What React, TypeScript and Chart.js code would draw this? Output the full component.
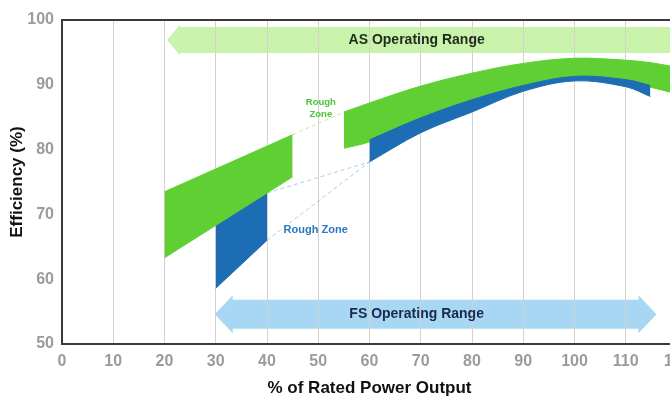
import React, { useEffect, useRef } from 'react';
import { Chart, registerables } from 'chart.js';

Chart.register(...registerables);

const FONT = "'Liberation Sans', Arial, Helvetica, sans-serif";

// Axis ranges / ticks
const xTicks = [0, 10, 20, 30, 40, 50, 60, 70, 80, 90, 100, 110, 120];
const yTicks = [50, 60, 70, 80, 90, 100];

// Low-load efficiency bands (before the rough zones)
const green1X = [20, 45];
const green1Upper = [73.5, 82.3];
const green1Lower = [63.3, 75.8];
const blue1X = [30, 40];
const blue1Upper = [68.4, 73.3];
const blue1Lower = [58.6, 66.0];

// High-load efficiency bands (after the rough zones)
const green2X = [55, 60, 70, 80, 90, 100, 110, 115, 120];
const green2Upper = [85.8, 87.2, 89.8, 91.8, 93.3, 94.1, 93.8, 93.4, 92.7];
const green2Lower = [80.2, 81.2, 84.6, 87.4, 89.6, 91.0, 90.5, 89.6, 88.6];
const blue2X = [60, 70, 80, 90, 100, 110, 114.8];
const blue2Upper = [81.5, 84.9, 87.7, 89.9, 91.3, 90.8, 89.9];
const blue2Lower = [78.1, 82.6, 85.8, 89.0, 90.6, 89.7, 88.2];

// Operating range arrows
const rangeNames = ['AS Operating Range', 'FS Operating Range'];
const rangeFrom = [20.5, 29.8];
const rangeTo = [126, 116];
const rangeLevel = [96.9, 54.6];
const rangeLabelX = [69.2, 69.2];

// Rough zone labels
const roughText = [['Rough', 'Zone'], ['Rough Zone']];
const roughX = [50.5, 49.5];
const roughY = [86.4, 67.6];

const GREEN = '#5fcf33';
const BLUE = '#1c6db4';

const pts = (xs: number[], ys: number[]) => xs.map((x, i) => ({ x, y: ys[i] }));

const band = (xs: number[], ys: number[], color: string, fill: any, curved: boolean) => ({
  data: pts(xs, ys),
  borderColor: color,
  backgroundColor: color,
  borderWidth: 1,
  fill,
  pointRadius: 0,
  pointHoverRadius: 0,
  tension: curved ? 0.35 : 0,
});

const roughLine = (a: { x: number; y: number }, b: { x: number; y: number }, color: string) => ({
  data: [a, b],
  borderColor: color,
  backgroundColor: color,
  borderWidth: 1,
  borderDash: [4, 3],
  fill: false,
  pointRadius: 0,
  pointHoverRadius: 0,
});

const arrowStyles = [
  { fill: '#c9f3aa', text: '#1f2b1c', body: 13, head: 15.5, len: 13, right: false },
  { fill: '#a8d7f3', text: '#1b2a4c', body: 14.5, head: 19, len: 18, right: true },
];

const overlayPlugin = {
  id: 'overlay',
  beforeDraw(chart: any) {
    const { ctx, chartArea, scales } = chart;
    const xs = scales.x;
    const ys = scales.y;
    ctx.save();
    ctx.beginPath();
    ctx.rect(chartArea.left, chartArea.top, chartArea.right - chartArea.left, chartArea.bottom - chartArea.top);
    ctx.clip();
    rangeNames.forEach((_, i) => {
      const st = arrowStyles[i];
      const xL = xs.getPixelForValue(rangeFrom[i]);
      const xR = xs.getPixelForValue(rangeTo[i]);
      const yc = ys.getPixelForValue(rangeLevel[i]);
      ctx.beginPath();
      ctx.moveTo(xL, yc);
      ctx.lineTo(xL + st.len, yc - st.head);
      ctx.lineTo(xL + st.len, yc - st.body);
      if (st.right) {
        ctx.lineTo(xR - st.len, yc - st.body);
        ctx.lineTo(xR - st.len, yc - st.head);
        ctx.lineTo(xR, yc);
        ctx.lineTo(xR - st.len, yc + st.head);
        ctx.lineTo(xR - st.len, yc + st.body);
      } else {
        ctx.lineTo(xR, yc - st.body);
        ctx.lineTo(xR, yc + st.body);
      }
      ctx.lineTo(xL + st.len, yc + st.body);
      ctx.lineTo(xL + st.len, yc + st.head);
      ctx.closePath();
      ctx.fillStyle = st.fill;
      ctx.fill();
    });
    ctx.restore();
  },
  afterDatasetsDraw(chart: any) {
    const { ctx, scales } = chart;
    const xs = scales.x;
    const ys = scales.y;
    ctx.save();
    ctx.textAlign = 'center';
    ctx.textBaseline = 'middle';
    rangeNames.forEach((name, i) => {
      ctx.font = `bold 14px ${FONT}`;
      ctx.fillStyle = arrowStyles[i].text;
      ctx.fillText(name, xs.getPixelForValue(rangeLabelX[i]), ys.getPixelForValue(rangeLevel[i]));
    });
    const roughColors = ['#4cc43a', '#2a78c0'];
    const roughSizes = [9.5, 11];
    roughText.forEach((lines, i) => {
      ctx.font = `bold ${roughSizes[i]}px ${FONT}`;
      ctx.fillStyle = roughColors[i];
      const cx = xs.getPixelForValue(roughX[i]);
      const cy = ys.getPixelForValue(roughY[i]);
      const lh = 12;
      lines.forEach((t, j) => {
        ctx.fillText(t, cx, cy + (j - (lines.length - 1) / 2) * lh);
      });
    });
    ctx.restore();
  },
};

export default function App() {
  const ref = useRef<HTMLCanvasElement>(null);

  useEffect(() => {
    const g1u = pts(green1X, green1Upper);
    const b1u = pts(blue1X, blue1Upper);
    const b1l = pts(blue1X, blue1Lower);
    const g2u = pts(green2X, green2Upper);
    const b2l = pts(blue2X, blue2Lower);

    const datasets: any[] = [
      band(blue2X, blue2Upper, BLUE, '+1', true),
      band(blue2X, blue2Lower, BLUE, false, true),
      band(green2X, green2Upper, GREEN, '+1', true),
      band(green2X, green2Lower, GREEN, false, true),
      band(green1X, green1Upper, GREEN, '+1', false),
      band(green1X, green1Lower, GREEN, false, false),
      band(blue1X, blue1Upper, BLUE, '+1', false),
      band(blue1X, blue1Lower, BLUE, false, false),
      roughLine(b1u[b1u.length - 1], b2l[0], 'rgba(140,190,225,0.75)'),
      roughLine(b1l[b1l.length - 1], b2l[0], 'rgba(140,190,225,0.75)'),
      roughLine(g1u[g1u.length - 1], g2u[0], 'rgba(205,228,150,0.9)'),
    ];

    const chart = new Chart(ref.current as HTMLCanvasElement, {
      type: 'line',
      data: { datasets },
      plugins: [overlayPlugin],
      options: {
        animation: false,
        responsive: false,
        devicePixelRatio: 1,
        layout: { padding: { top: 20, right: 23, left: 0, bottom: 0 } },
        plugins: { legend: { display: false }, tooltip: { enabled: false } },
        events: [],
        scales: {
          x: {
            type: 'linear',
            min: xTicks[0],
            max: xTicks[xTicks.length - 1],
            afterBuildTicks: (s: any) => {
              s.ticks = xTicks.map((v) => ({ value: v }));
            },
            ticks: {
              color: '#9b9b9b',
              font: { family: FONT, size: 16, weight: 'bold' },
              padding: 8,
              maxRotation: 0,
              autoSkip: false,
            },
            grid: {
              drawTicks: false,
              color: (c: any) => (c.tick && c.tick.value === 0 ? 'transparent' : '#d2d2d2'),
              lineWidth: 1,
            },
            border: { display: true, color: '#3a3a3a', width: 2 },
            title: {
              display: true,
              text: '% of Rated Power Output',
              color: '#111',
              font: { family: FONT, size: 17, weight: 'bold' },
              padding: { top: 0, bottom: 0 },
            },
            afterFit: (s: any) => {
              s.height = 55;
            },
          },
          y: {
            type: 'linear',
            min: yTicks[0],
            max: yTicks[yTicks.length - 1],
            afterBuildTicks: (s: any) => {
              s.ticks = yTicks.map((v) => ({ value: v }));
            },
            ticks: {
              color: '#9b9b9b',
              font: { family: FONT, size: 16, weight: 'bold' },
              padding: 8,
            },
            grid: {
              drawTicks: false,
              color: (c: any) => (c.tick && c.tick.value === 100 ? '#3a3a3a' : 'transparent'),
              lineWidth: (c: any) => (c.tick && c.tick.value === 100 ? 2 : 0),
            },
            border: { display: true, color: '#3a3a3a', width: 2 },
            title: {
              display: true,
              text: 'Efficiency (%)',
              color: '#111',
              font: { family: FONT, size: 17, weight: 'bold' },
              padding: { top: 7, bottom: 0 },
            },
            afterFit: (s: any) => {
              s.width = 62;
            },
          },
        },
      } as any,
    });
    return () => chart.destroy();
  }, []);

  return (
    <div
      style={{
        position: 'fixed',
        left: 0,
        top: 0,
        width: 670,
        height: 399,
        overflow: 'hidden',
        background: '#ffffff',
      }}
    >
      <canvas ref={ref} width={700} height={399} style={{ display: 'block', width: 700, height: 399 }} />
    </div>
  );
}
